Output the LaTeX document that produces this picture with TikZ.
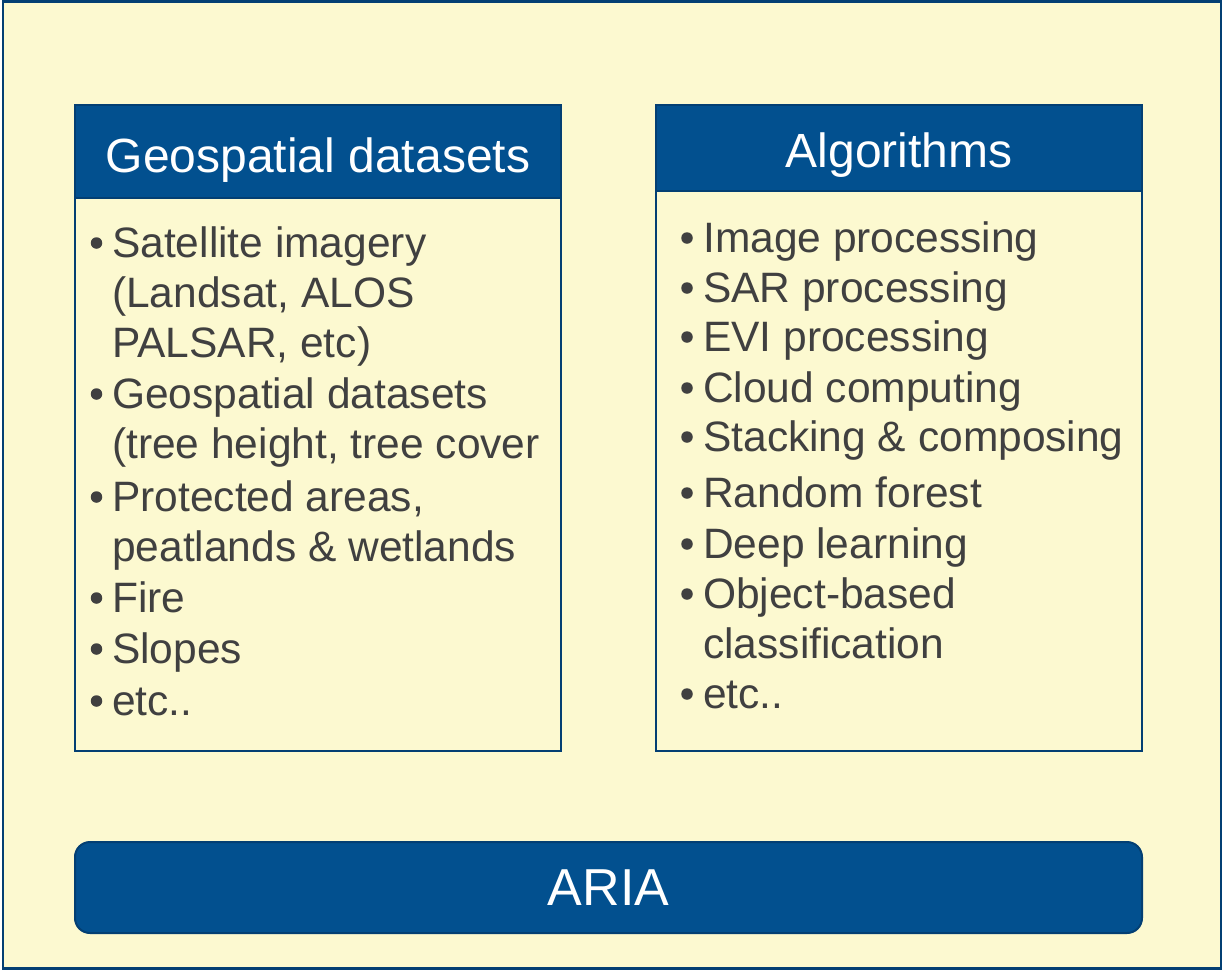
\documentclass[tikz,border=0pt]{standalone}
\usepackage{fontspec}
\setmainfont{Liberation Sans}
\definecolor{bgyellow}{HTML}{FCF9D0}
\definecolor{hdrblue}{HTML}{02508F}
\definecolor{edgeblue}{HTML}{033F73}
\definecolor{txtgray}{HTML}{404040}
\begin{document}
\begin{tikzpicture}[x=1pt,y=-1pt,
  boxshape/.style={draw=edgeblue, line width=2pt, anchor=north west, inner sep=0pt, outer sep=0pt},
  hdrtext/.style={anchor=base, text=white, inner sep=0pt, font=\fontsize{48}{56}\selectfont},
  itemtext/.style={anchor=base west, text=txtgray, inner sep=0pt, font=\fontsize{42.5}{50}\selectfont},
  bulletdot/.style={circle, fill=txtgray, minimum size=11.5pt, inner sep=0pt}
]
\useasboundingbox (0,0) rectangle (1223,970);
% outer frame
\node[boxshape, line width=2.5pt, fill=bgyellow, minimum width=1218pt, minimum height=967pt] (frame) at (3,1.5) {};
% left box
\node[boxshape, fill=bgyellow, minimum width=486pt, minimum height=646pt] (leftbody) at (75,105) {};
\node[boxshape, fill=hdrblue, minimum width=486pt, minimum height=93pt] (lefthead) at (75,105) {};
\node[hdrtext] (lefttitle) at (318,172) {Geospatial datasets};
% right box
\node[boxshape, fill=bgyellow, minimum width=486pt, minimum height=646pt] (rightbody) at (656,105) {};
\node[boxshape, fill=hdrblue, minimum width=486pt, minimum height=86pt] (righthead) at (656,105) {};
\node[hdrtext] (righttitle) at (899,167) {Algorithms};
% ARIA bar
\node[boxshape, fill=hdrblue, rounded corners=15pt, minimum width=1067pt, minimum height=91pt] (ariabar) at (75,842) {};
\node[anchor=base, text=white, inner sep=0pt, font=\fontsize{52}{60}\selectfont] (ariatext) at (608.5,905) {ARIA};
% left items
\node[itemtext] (l1) at (112,257) {Satellite imagery};
\node[itemtext] (l2) at (112,307) {(Landsat, ALOS};
\node[itemtext] (l3) at (112,357) {PALSAR, etc)};
\node[itemtext] (l4) at (112,408) {Geospatial datasets};
\node[itemtext] (l5) at (112,458) {(tree height, tree cover};
\node[itemtext] (l6) at (112,511) {Protected areas,};
\node[itemtext] (l7) at (112,561) {peatlands \& wetlands};
\node[itemtext] (l8) at (112,612) {Fire};
\node[itemtext] (l9) at (112,663) {Slopes};
\node[itemtext] (l10) at (112,715) {etc..};
\foreach \y/\n in {257/a,408/b,511/c,612/d,663/e,715/f}
  \node[bulletdot] (lb\n) at (96.5,\y-14) {};
% right items
\node[itemtext] (r1) at (703,252) {Image processing};
\node[itemtext] (r2) at (703,302) {SAR processing};
\node[itemtext] (r3) at (703,351) {EVI processing};
\node[itemtext] (r4) at (703,402) {Cloud computing};
\node[itemtext] (r5) at (703,451) {Stacking \& composing};
\node[itemtext] (r6) at (703,507) {Random forest};
\node[itemtext] (r7) at (703,558) {Deep learning};
\node[itemtext] (r8) at (703,608) {Object-based};
\node[itemtext] (r9) at (703,658) {classification};
\node[itemtext] (r10) at (703,708) {etc..};
\foreach \y/\n in {252/a,302/b,351/c,402/d,451/e,507/f,558/g,608/h,708/i}
  \node[bulletdot] (rb\n) at (687,\y-14) {};
\end{tikzpicture}
\end{document}
